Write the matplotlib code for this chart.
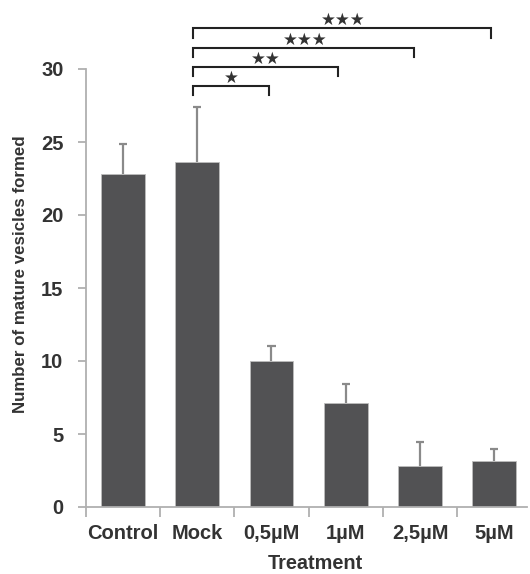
import matplotlib.pyplot as plt
import numpy as np

plt.rcParams['font.family'] = ['Liberation Sans', 'DejaVu Sans']

categories = ['Control', 'Mock', '0,5µM', '1µM', '2,5µM', '5µM']
means = [22.8, 23.6, 10.0, 7.1, 2.8, 3.15]
errors = [2.05, 3.8, 1.0, 1.3, 1.65, 0.8]

# significance brackets, all starting at Mock
bracket_start = [0.95, 0.95, 0.95, 0.95]
bracket_end = [1.97, 2.89, 3.92, 4.96]
bracket_y = [28.85, 30.15, 31.45, 32.8]
star_x = [1.46, 1.93, 2.45, 2.97]
bracket_labels = ['★', '★★', '★★★', '★★★']

bar_color = '#525254'
axis_color = '#b0b0b0'
text_color = '#333333'

fig = plt.figure(figsize=(5.30, 5.74), dpi=100)
ax = fig.add_axes([85.7 / 530, 1 - 507 / 574, (527 - 85.7) / 530, (507 - 69) / 574])

x = np.arange(len(categories))
tops = np.array(means) + np.array(errors)
ax.vlines(x, means, tops, color='#8a8a8a', lw=1.6, zorder=1)
ax.hlines(tops, x - 0.055, x + 0.055, color='#8a8a8a', lw=1.6, zorder=1)
ax.bar(x, means, width=0.59, color=bar_color, edgecolor='#bdbdbd', linewidth=0.6, zorder=2)

ax.set_xlim(-0.5, 5.44)
ax.set_ylim(0, 30)
ax.set_yticks([0, 5, 10, 15, 20, 25, 30])
ax.set_xticks(x)
ax.set_xticklabels(categories)
ax.set_xticks(np.arange(-0.5, 5.0, 1.0), minor=True)

for s in ['top', 'right']:
    ax.spines[s].set_visible(False)
for s in ['left', 'bottom']:
    ax.spines[s].set_color(axis_color)
    ax.spines[s].set_linewidth(1.3)

ax.tick_params(axis='y', colors=axis_color, length=6, width=1.3, labelcolor=text_color,
               labelsize=14.5, pad=10)
ax.tick_params(axis='x', which='major', length=0, labelcolor=text_color, labelsize=14.5, pad=12.5)
ax.tick_params(axis='x', which='minor', length=7, width=1.3, color=axis_color)
for lab in ax.get_xticklabels() + ax.get_yticklabels():
    lab.set_fontweight('bold')

ax.set_ylabel('Number of mature vesicles formed', fontsize=12.2, fontweight='bold',
              color=text_color, va='center')
ax.yaxis.set_label_coords(-0.148, 0.532)
ax.set_xlabel('Treatment', fontsize=14.3, fontweight='bold', color=text_color, va='center')
ax.xaxis.set_label_coords(0.52, -0.128)

for x0, x1, y, sx, lab in zip(bracket_start, bracket_end, bracket_y, star_x, bracket_labels):
    ax.plot([x0, x0, x1, x1], [y - 0.65, y, y, y - 0.65], color='#222222', lw=1.5,
            clip_on=False, solid_joinstyle='miter')
    ax.annotate(lab, (sx, y), xytext=(0, 6), textcoords='offset points',
                ha='center', va='center', fontsize=12, color='#333333',
                family='DejaVu Sans', annotation_clip=False)

fig.savefig('out.png', dpi=100)
